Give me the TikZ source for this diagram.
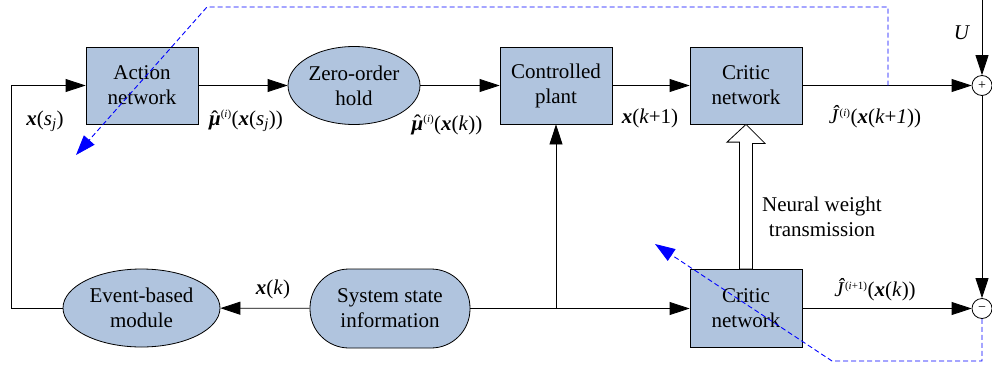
\documentclass[tikz,border=0pt]{standalone}
\usepackage{fontspec}
\setmainfont{Liberation Serif}
\usetikzlibrary{arrows.meta,shapes.geometric,calc}

% bold italic state vector and the hatted control law
\newcommand\vx{\textbf{\textit{x}}}
\newcommand\muhat{\ooalign{\textbf{\textit{μ}}\cr\hidewidth\raisebox{0.02em}{ˆ}\hidewidth\cr}}
\newcommand\sps[1]{\textsuperscript{\fontsize{11}{11}\selectfont(#1)}}

\definecolor{boxfill}{HTML}{B0C4DE}

\tikzset{
  base/.style={draw=black, line width=0.8pt, fill=boxfill, align=center,
    font=\fontsize{21}{25}\selectfont, inner sep=0pt},
  blk/.style={base, rectangle, minimum width=112pt, minimum height=77pt},
  ell/.style={base, ellipse},
  stad/.style={base, rectangle, rounded corners=39pt, minimum width=160pt, minimum height=79pt},
  sumnode/.style={draw=black, line width=0.8pt, circle, fill=white, minimum size=20pt,
    inner sep=0pt, font=\fontsize{14}{14}\selectfont},
  conn/.style={line width=0.8pt, -{Triangle[length=20pt,width=13pt]}},
  plainline/.style={line width=0.8pt},
  bluedash/.style={blue, line width=0.9pt, dash pattern=on 5pt off 3pt,
    -{Triangle[length=20pt,width=14pt]}},
  lbl/.style={font=\fontsize{21}{25}\selectfont, inner sep=0pt},
}

\begin{document}
\begin{tikzpicture}[x=1pt,y=-1pt]
\useasboundingbox (0,0) rectangle (992,367);

% blocks of the upper row
\node[blk] (act) at (142,85.5) {Action\\network};
\node[ell, minimum width=132pt, minimum height=78pt] (zoh) at (354,85.5) {Zero-order\\hold};
\node[blk] (plant) at (556,85.5) {Controlled\\plant};
\node[blk] (crit1) at (746,85.5) {Critic\\network};
\node[sumnode] (s1) at (982,85.5) {+};

% blocks of the lower row
\node[ell, minimum width=157pt, minimum height=78pt] (evt) at (141.5,308) {Event-based\\module};
\node[stad] (sys) at (390,308.5) {System state\\information};
\node[blk, minimum height=78pt] (crit2) at (746,308.5) {Critic\\network};
\node[sumnode] (s2) at (982,308.5) {−};

% helper points
\coordinate (j) at (556,308.5);
\coordinate (lc) at (11,85.5);
\coordinate (utop) at (982,0);
\coordinate (d1) at (888,85.5);

% forward path
\draw[conn] (act) -- (zoh);
\draw[conn] (zoh) -- (plant);
\draw[conn] (plant) -- (crit1);
\draw[conn] (crit1) -- (s1);

% state information branches
\draw[conn] (sys) -- (evt);
\draw[conn] (sys) -- (crit2);
\draw[conn] (j) -- (plant.south);
\draw[conn] (evt.west) -| (lc) -- (act.west);

% summing junctions
\draw[conn] (utop) -- (s1.north);
\draw[conn] (s1.south) -- (s2.north);
\draw[conn] (crit2) -- (s2);

% hollow arrow for weight transfer
\draw[plainline, fill=white]
  ($(crit2.north)+(-6.5,0)$) -- ++(0,-127) -- ++(-12.5,0) -- (crit1.south)
  -- ++(19,19) -- ++(-12.5,0) -- ($(crit2.north)+(6.5,0)$) -- cycle;

% dashed error paths
\draw[bluedash] (d1) -- (888,7) -- (207,7) -- (76,155);
\draw[bluedash] (s2.south) -- (982,361) -- (832,361) -- (655,244);

% labels
\node[lbl] (l1) at (45,121) {\vx(\textit{s}\textsubscript{\textit{j}})};
\node[lbl] (l2) at (246,121) {\muhat\sps{\textit{i}}(\vx(\textit{s}\textsubscript{\textit{j}}))};
\node[lbl] (l3) at (447,125) {\muhat\sps{\textit{i}}(\vx(\textit{k}))};
\node[lbl] (l4) at (650,118) {\vx(\textit{k}+1)};
\node[lbl] (l5) at (875,117) {\textit{Ĵ}\sps{\textit{i}}(\vx(\textit{k}+\textit{1}))};
\node[lbl] (l6) at (875,290) {\textit{Ĵ}\sps{\textit{i}+1}(\vx(\textit{k}))};
\node[lbl] (l7) at (273,289) {\vx(\textit{k})};
\node[lbl] (l8) at (962,33) {\textit{U}};
\node[lbl, align=center] (l9) at (822,217) {Neural weight\\transmission};
\end{tikzpicture}
\end{document}
